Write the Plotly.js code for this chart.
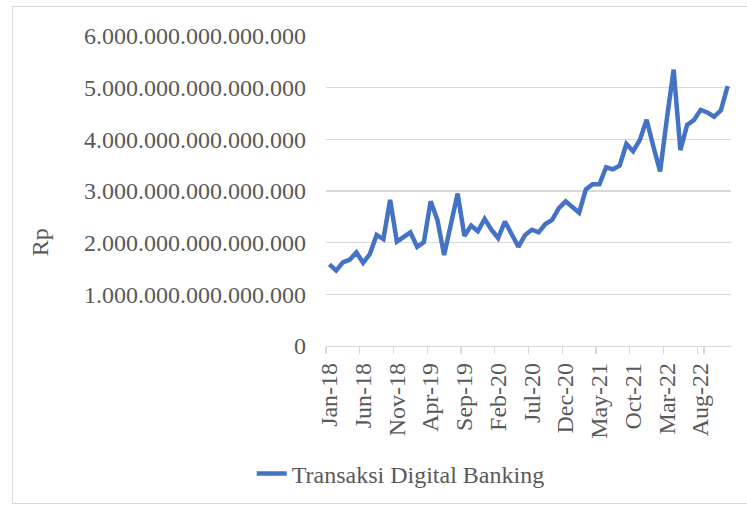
<!DOCTYPE html>
<html>
<head>
<meta charset="utf-8">
<script src="https://cdn.plot.ly/plotly-3.0.1.min.js"></script>
<style>
  html, body { margin: 0; padding: 0; background: #ffffff; }
  #wrap { position: relative; width: 747px; height: 508px; overflow: hidden; }
  #chart { width: 747px; height: 508px; }
  #frame { position: absolute; left: 12px; top: 6px; width: 760px; height: 498px;
           border: 1px solid #d9d9d9; box-sizing: border-box; pointer-events: none; }
</style>
</head>
<body>
<div id="wrap">
  <div id="chart"></div>
  <div id="frame"></div>
</div>
<script>
// Monthly categories Jan-18 .. Dec-22
const months = [
  "Jan-18","Feb-18","Mar-18","Apr-18","May-18","Jun-18","Jul-18","Aug-18","Sep-18","Oct-18","Nov-18","Dec-18",
  "Jan-19","Feb-19","Mar-19","Apr-19","May-19","Jun-19","Jul-19","Aug-19","Sep-19","Oct-19","Nov-19","Dec-19",
  "Jan-20","Feb-20","Mar-20","Apr-20","May-20","Jun-20","Jul-20","Aug-20","Sep-20","Oct-20","Nov-20","Dec-20",
  "Jan-21","Feb-21","Mar-21","Apr-21","May-21","Jun-21","Jul-21","Aug-21","Sep-21","Oct-21","Nov-21","Dec-21",
  "Jan-22","Feb-22","Mar-22","Apr-22","May-22","Jun-22","Jul-22","Aug-22","Sep-22","Oct-22","Nov-22","Dec-22"
];

// Transaction value, in quadrillion rupiah (x 1e15)
const valuesQ = [
  1.58, 1.46, 1.62, 1.67, 1.81, 1.61, 1.78, 2.15, 2.07, 2.83, 2.02, 2.11,
  2.20, 1.92, 2.01, 2.80, 2.44, 1.76, 2.40, 2.95, 2.13, 2.33, 2.22, 2.46,
  2.25, 2.09, 2.41, 2.15, 1.92, 2.15, 2.25, 2.20, 2.36, 2.44, 2.67, 2.80,
  2.69, 2.58, 3.03, 3.13, 3.13, 3.46, 3.42, 3.49, 3.91, 3.77, 3.99, 4.38,
  3.86, 3.38, 4.40, 5.35, 3.79, 4.28, 4.37, 4.57, 4.52, 4.44, 4.56, 5.03
];
const values = valuesQ.map(v => v * 1e15);

const seriesName = "Transaksi Digital Banking";
const yTitle = "Rp";
const yTickVals = [0, 1e15, 2e15, 3e15, 4e15, 5e15, 6e15];
const xTickLabels = ["Jan-18","Jun-18","Nov-18","Apr-19","Sep-19","Feb-20","Jul-20","Dec-20","May-21","Oct-21","Mar-22","Aug-22"];

const fontFam = 'Liberation Serif';
const gray = '#595959';

const trace = {
  type: 'scatter',
  mode: 'lines',
  x: months,
  y: values,
  name: seriesName,
  line: { color: '#4472C4', width: 4.5, shape: 'linear' },
  hoverinfo: 'skip'
};

const layout = {
  width: 747, height: 508,
  paper_bgcolor: '#ffffff', plot_bgcolor: '#ffffff',
  margin: { l: 326, r: 16, t: 36, b: 162 },
  separators: ',.',
  font: { family: fontFam, size: 24, color: gray },
  showlegend: true,
  legend: {
    orientation: 'h',
    xref: 'container', yref: 'container',
    x: 0.337, xanchor: 'left',
    y: 0.067, yanchor: 'middle',
    font: { family: fontFam, size: 24, color: gray },
    bgcolor: 'rgba(0,0,0,0)'
  },
  annotations: [{
    text: yTitle,
    xref: 'paper', yref: 'paper',
    x: -0.706, y: 0.335,
    xanchor: 'center', yanchor: 'middle',
    textangle: -90,
    showarrow: false,
    font: { family: fontFam, size: 24, color: gray }
  }],
  xaxis: {
    type: 'category',
    categoryorder: 'array',
    categoryarray: months,
    range: [-0.5, months.length - 0.5],
    tickmode: 'array',
    tickvals: xTickLabels,
    ticktext: xTickLabels,
    tickson: 'boundaries',
    ticks: 'outside',
    ticklen: 7,
    tickwidth: 1.3,
    tickcolor: '#d9d9d9',
    tickangle: -90,
    ticklabelstandoff: 6,
    showline: true,
    linecolor: '#d9d9d9',
    linewidth: 1.3,
    showgrid: false,
    zeroline: false,
    tickfont: { family: fontFam, size: 24, color: gray },
    fixedrange: true
  },
  yaxis: {
    range: [0, 6e15],
    tickmode: 'array',
    tickvals: yTickVals,
    tickformat: ',.0f',
    ticks: '',
    showline: false,
    showgrid: true,
    gridcolor: '#d9d9d9',
    gridwidth: 1.3,
    zeroline: false,
    ticklabelstandoff: 19,
    tickfont: { family: fontFam, size: 24, color: gray },
    automargin: false,
    fixedrange: true
  }
};

Plotly.newPlot('chart', [trace], layout, { staticPlot: true, displayModeBar: false });
</script>
</body>
</html>
